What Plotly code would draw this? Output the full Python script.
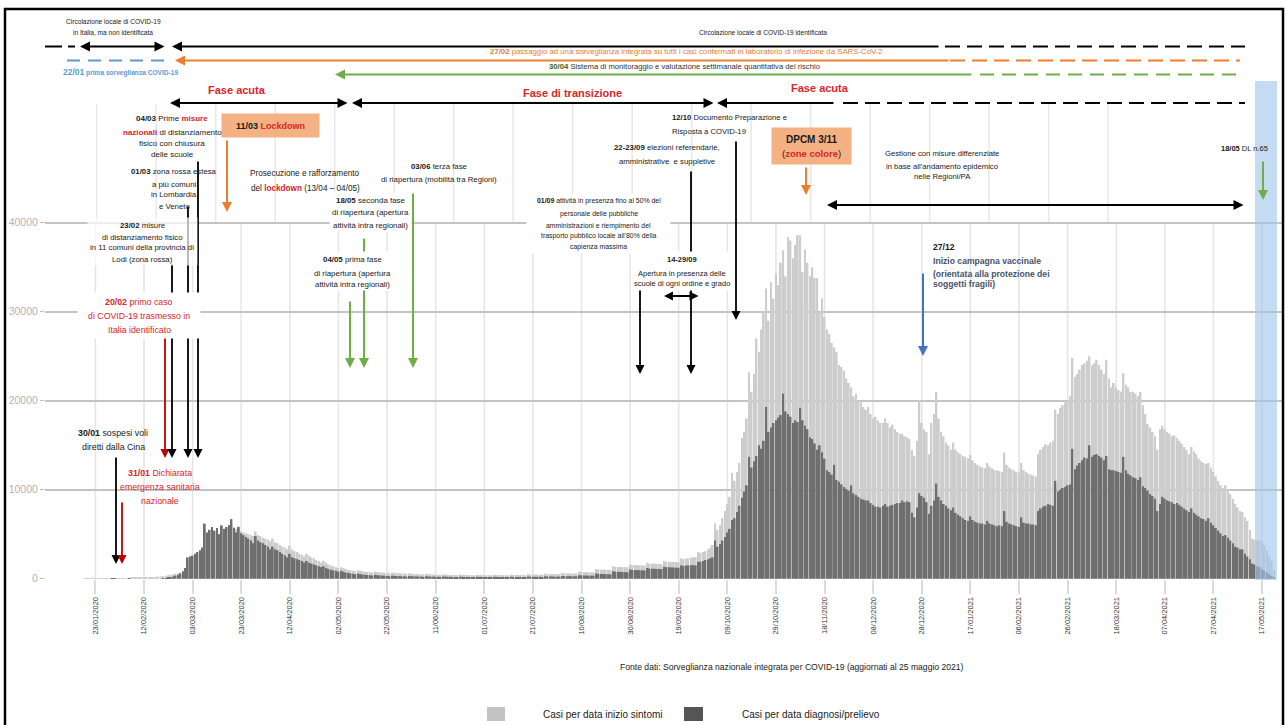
import plotly.graph_objects as go
import pandas as pd

# ---------------- DATA ----------------
START_DATE = "2020-01-19"   # first bar (Sunday); one row per week below

sintomi = [
    10, 10, 20, 20, 20, 30, 30,
    40, 40, 50, 50, 60, 60, 70,
    60, 70, 70, 80, 80, 90, 90,
    100, 100, 110, 120, 130, 140, 150,
    180, 200, 230, 260, 300, 340, 380,
    450, 500, 560, 620, 700, 780, 860,
    2000, 2200, 2400, 2600, 2800, 3000, 3200,
    5500, 5000, 5300, 5500, 5300, 5500, 5000,
    5800, 5600, 5800, 6000, 6200, 5800, 5600,
    5900, 5300, 5200, 5100, 5000, 4900, 4800,
    5300, 4900, 4800, 4600, 4500, 4400, 4200,
    4500, 4100, 4000, 3800, 3600, 3500, 3300,
    3700, 3300, 3100, 3000, 2800, 2700, 2500,
    2800, 2600, 2400, 2300, 2100, 2000, 1800,
    2000, 1800, 1600, 1500, 1400, 1300, 1200,
    1300, 1200, 1100, 1000, 950, 900, 850,
    950, 900, 850, 800, 760, 730, 700,
    800, 760, 730, 700, 680, 650, 620,
    700, 660, 640, 620, 600, 580, 560,
    620, 580, 560, 540, 520, 500, 480,
    560, 520, 500, 480, 460, 450, 440,
    500, 470, 450, 440, 430, 420, 410,
    470, 440, 420, 410, 400, 400, 390,
    450, 420, 410, 400, 390, 390, 380,
    450, 420, 410, 400, 400, 390, 390,
    470, 440, 430, 420, 420, 410, 410,
    520, 490, 480, 470, 460, 460, 450,
    580, 550, 540, 530, 520, 520, 510,
    650, 620, 610, 600, 590, 590, 580,
    800, 760, 750, 740, 730, 730, 720,
    1100, 1050, 1040, 1030, 1020, 1010, 1000,
    1400, 1350, 1330, 1320, 1310, 1300, 1290,
    1600, 1550, 1530, 1520, 1510, 1500, 1490,
    1800, 1720, 1700, 1690, 1680, 1670, 1660,
    2000, 1920, 1900, 1890, 1880, 1870, 1860,
    2300, 2200, 2250, 2300, 2350, 2400, 2450,
    3000, 2900, 3000, 3100, 3300, 3500, 3800,
    6200, 5500, 6000, 6800, 7600, 8400, 9200,
    11900, 11000, 12000, 13000, 15800, 16500, 18000,
    23200, 21000, 23000, 27000, 25500, 28000, 30000,
    32600, 29000, 33300, 31500, 34300, 33000, 35500,
    36900, 34000, 38400, 38000, 36000, 37500, 38600,
    38600, 34500, 37000, 35500, 34000, 35000, 33800,
    33800, 30000, 31500, 29400, 28000, 27500, 26500,
    26000, 25500, 24000, 23800, 23400, 22500, 22000,
    21500, 20500, 20800, 20000, 19800, 19300, 19000,
    19300, 18500, 18000, 18200, 17800, 17500, 17500,
    18000, 17500, 17000, 17300, 16800, 16500, 16300,
    16300, 16000, 15900, 15700, 14500, 13800, 15500,
    20100, 17500, 16800, 16500, 14000, 17500, 18500,
    21000, 18000, 16500, 16000, 15300, 15000, 14500,
    15300, 14500, 14200, 14000, 13800, 13700, 13500,
    13900, 13300, 13000, 12800, 12600, 12500, 12400,
    13000, 12600, 12400, 12200, 12200, 12100, 12000,
    14200, 12800, 12500, 12300, 12200, 12000, 11900,
    13000, 12200, 12000, 11800, 11700, 11600, 11500,
    14000, 14500, 14800, 15100, 15000, 15300, 15500,
    19000, 18500, 19200, 19500, 19800, 20000, 20500,
    24800, 22700, 23000, 23500, 24000, 24200, 24500,
    25000, 24000, 24200, 24600, 24000, 23500, 23000,
    24600, 22500, 21500, 22000, 21500, 21200, 21000,
    23100, 21800, 21500, 21000, 21000, 20800, 20500,
    21000, 19500, 18500, 17400, 17000, 16500, 16000,
    14500, 16800, 17200, 16800, 16500, 16300, 16000,
    16100, 15800, 15500, 15200, 14800, 14500, 14000,
    14800, 14300, 14000, 13500, 13200, 13000, 12900,
    13000, 12500, 12000, 11500, 11000, 10500, 10200,
    10500, 10000, 9500, 9000, 8400, 8000, 7600,
    7500, 6900, 6500, 5500, 4500, 4400, 4300,
    4300, 4200, 3800, 3200, 2500, 2000, 1000,
]

diagnosi = [
    0, 0, 0, 0, 0, 0, 0,
    0, 0, 0, 0, 3, 2, 0,
    0, 0, 0, 0, 1, 0, 0,
    0, 0, 0, 0, 0, 0, 0,
    0, 0, 0, 0, 20, 60, 90,
    150, 250, 350, 450, 600, 850, 1200,
    2400, 2500, 2600, 2800, 3000, 3200, 3500,
    6200, 5200, 5500, 5800, 5400, 5700, 5000,
    6000, 5600, 5800, 6000, 6700, 5700, 5200,
    5800, 5100, 4900, 4700, 4500, 4300, 4000,
    4800, 4300, 4100, 4000, 3800, 3600, 3300,
    3600, 3300, 3200, 3000, 2800, 2600, 2400,
    2800, 2400, 2300, 2200, 2100, 2000, 1800,
    2000, 1800, 1700, 1600, 1500, 1400, 1300,
    1400, 1200, 1100, 1000, 950, 900, 800,
    900, 800, 700, 650, 600, 560, 500,
    600, 520, 480, 450, 420, 400, 360,
    450, 400, 380, 360, 340, 320, 290,
    350, 320, 300, 290, 280, 270, 250,
    300, 280, 270, 260, 250, 240, 220,
    270, 250, 240, 230, 220, 210, 200,
    250, 230, 220, 210, 200, 200, 190,
    230, 210, 200, 200, 190, 190, 180,
    220, 200, 200, 190, 190, 180, 180,
    220, 200, 190, 190, 180, 180, 170,
    230, 210, 200, 200, 190, 190, 180,
    250, 230, 220, 220, 210, 210, 200,
    280, 260, 250, 250, 240, 240, 230,
    320, 300, 290, 290, 280, 280, 270,
    400, 380, 370, 360, 350, 350, 340,
    580, 550, 540, 530, 520, 510, 500,
    850, 800, 780, 770, 760, 750, 730,
    1050, 1000, 980, 970, 960, 950, 930,
    1200, 1150, 1130, 1120, 1110, 1100, 1080,
    1350, 1300, 1280, 1270, 1260, 1250, 1230,
    1500, 1450, 1480, 1500, 1520, 1530, 1500,
    1900, 1900, 2000, 2100, 2200, 2300, 2400,
    4300, 3600, 3900, 4300, 4700, 5200, 5600,
    6600, 6800, 7500, 8200, 9100, 9800, 10500,
    13700, 12500, 13200, 13800, 15000, 14600, 15500,
    19300, 16500, 17000, 17500, 17800, 18100, 18400,
    20800, 18800, 18500, 18200, 17500, 17800, 17600,
    19200, 17800, 17200, 16800, 15900, 15700, 15200,
    14500, 15000, 14200, 13500, 12200, 12000, 11700,
    12800, 11100, 10900, 10600, 10300, 10100, 9900,
    10500, 9600, 9400, 9200, 9000, 8900, 8800,
    8800, 8500, 8300, 8100, 8100, 8000, 8200,
    8400, 8100, 8200, 8300, 8400, 8500, 8500,
    8800, 8600, 8700, 8600, 7400, 6900, 8000,
    9600, 9300, 9100, 8600, 7300, 8200, 8800,
    10700, 9200, 8800, 8400, 8200, 7900, 7700,
    8000, 7400, 7200, 7000, 6800, 6600, 6500,
    7000, 6600, 6400, 6300, 6200, 6200, 6100,
    6500, 6200, 6100, 6000, 5900, 6000, 5900,
    7600, 6400, 6200, 6100, 6000, 5900, 5800,
    6900, 6300, 6200, 6200, 6100, 6100, 6000,
    7600, 7900, 8100, 8200, 8400, 8300, 8200,
    11000, 9800, 10000, 10200, 10300, 10500, 10600,
    14600, 12300, 12700, 13000, 13300, 13600, 13500,
    15000, 13700, 13900, 14000, 13800, 13600, 13300,
    13800, 12300, 12200, 12200, 12100, 12000, 11900,
    13700, 12200, 11800, 11600, 11400, 11300, 11100,
    11400, 10400, 10200, 9900, 9500, 9300, 9000,
    7600, 8400, 9200, 9000, 8800, 8700, 8600,
    8400, 8500, 8300, 8100, 7900, 7700, 7500,
    7900, 7400, 7200, 7000, 6800, 6700, 6500,
    6800, 6300, 6000, 5700, 5400, 5100, 4800,
    4900, 4600, 4300, 4000, 3600, 3500, 3300,
    3300, 2800, 2500, 2200, 1700, 1600, 1400,
    1300, 1100, 900, 700, 500, 300, 150,
]

dates = pd.date_range(START_DATE, periods=len(sintomi), freq="D")

series_names = ["Casi per data inizio sintomi", "Casi per data diagnosi/prelievo"]
y_tick_values = [0, 10000, 20000, 30000, 40000]
x_tick_start = "2020-01-23"
x_tick_end = "2021-05-17"
x_tick_step_days = 20

# ---------------- LAYOUT GEOMETRY ----------------
W, H = 1286, 725
L, R, T, B = 45, 1283, 81, 579
PX_REF, PX_PER_DAY = 95.4, 2.4305
PX_PER_UNIT = 356 / 40000.0

def xp(px):
    return (px - L) / (R - L)

def yp(py):
    return (B - py) / (B - T)

ref_day = pd.Timestamp(x_tick_start)
x_left = ref_day + pd.Timedelta(days=(L - PX_REF) / PX_PER_DAY)
x_right = ref_day + pd.Timedelta(days=(R - PX_REF) / PX_PER_DAY)
y_top = (B - T) / PX_PER_UNIT

RED = "#d9262b"
ORANGE = "#ed7d31"
GREEN = "#70ad47"
BLUE = "#5b9bd5"
FA = "Liberation Sans, Arial, sans-serif"
RS = "<span style='color:" + RED + "'>"

fig = go.Figure()
fig.add_trace(go.Bar(x=dates, y=sintomi, name=series_names[0],
                     marker=dict(color="#cdcdcd", line=dict(width=0)), showlegend=False))
fig.add_trace(go.Bar(x=dates, y=diagnosi, name=series_names[1],
                     marker=dict(color="#6f6f6f", line=dict(width=0)), showlegend=False))

shapes = []
arrows = []
boxes = []
texts = []

def hline(x0, x1, py, color, width=2, dash="solid"):
    shapes.append(dict(type="line", xref="paper", yref="paper", x0=xp(x0), x1=xp(x1),
                       y0=yp(py), y1=yp(py), line=dict(color=color, width=width, dash=dash)))

def text(t, px, py, size=8, color="#1a1a1a", xanchor="center", family=FA):
    texts.append(dict(text=t, x=xp(px), y=yp(py), xref="paper", yref="paper", showarrow=False,
                      xanchor=xanchor, yanchor="middle", align="center",
                      font=dict(size=size, color=color, family=family)))

def lines(rows, px, pys, size=8, color="#1a1a1a", xanchor="center"):
    for t, py in zip(rows, pys):
        text(t, px, py, size=size, color=color, xanchor=xanchor)

def box(x0, y0, x1, y1, color):
    boxes.append(dict(text=" ", x=xp((x0 + x1) / 2), y=yp((y0 + y1) / 2), xref="paper", yref="paper",
                      showarrow=False, xanchor="center", yanchor="middle", width=x1 - x0,
                      height=y1 - y0, bgcolor=color, borderpad=0, font=dict(size=6)))

def arrow(hx, hy, tx, ty, color="#000000", width=1.8, size=1.0, both=False, head=2):
    a = dict(x=xp(hx), y=yp(hy), xref="paper", yref="paper", ax=tx - hx, ay=ty - hy,
             text="", showarrow=True, arrowhead=head, arrowsize=size, arrowwidth=width,
             arrowcolor=color, standoff=0, startstandoff=0)
    if both:
        a.update(arrowside="end+start", startarrowhead=head, startarrowsize=size)
    arrows.append(a)

# vertical grid lines (lower set at the date ticks, upper set as in the original)
tick_dates = pd.date_range(x_tick_start, x_tick_end, freq=f"{x_tick_step_days}D")
for d in tick_dates:
    shapes.append(dict(type="line", xref="x", yref="paper", x0=d, x1=d, y0=0, y1=yp(223),
                       line=dict(color="#e6e6e6", width=1.6), layer="below"))
for k in range(18):
    px = 96.7 + 59.5 * k
    shapes.append(dict(type="line", xref="paper", yref="paper", x0=xp(px), x1=xp(px),
                       y0=yp(223), y1=yp(104), line=dict(color="#ebe9e5", width=1.6), layer="below"))

# frame
shapes.append(dict(type="rect", xref="paper", yref="paper", x0=xp(5), x1=xp(1283),
                   y0=yp(760), y1=yp(9), line=dict(color="#000000", width=2.5)))

# blue band (last days)
shapes.append(dict(type="rect", xref="paper", yref="paper", x0=xp(1255), x1=xp(1277),
                   y0=yp(580), y1=yp(81), line=dict(width=0),
                   fillcolor="rgba(160,198,232,0.62)", layer="above"))

# ---------- header rows ----------
lines(["Circolazione locale di COVID-19", "in Italia, ma non identificata"], 113, [21, 32], size=6.6)
text("Circolazione locale di COVID-19 identificata", 763, 32, size=6.6)

hline(45, 62, 46.5, "#000000")
hline(68, 75, 46.5, "#000000")
arrow(80, 46.5, 166, 46.5, both=True, width=2)
arrow(172, 46.5, 940, 46.5, width=2)
hline(945, 1245, 46.5, "#000000", dash="15px,7px")

hline(67, 168, 60.5, BLUE, dash="13px,8px")
arrow(175, 60.5, 950, 60.5, color=ORANGE, width=2)
hline(950, 1240, 60.5, ORANGE, dash="15px,7px")
text("<b>27/02</b> passaggio ad una sorveglianza integrata su tutti i casi confermati in laboratorio di infezione da SARS-CoV-2",
     885, 52, size=7.8, color=ORANGE, xanchor="right")
text("<b><span style='font-size:8.5px'>22/01</span> prima sorveglianza COVID-19</b>", 61, 72,
     size=6.6, color=BLUE, xanchor="left")

arrow(335, 74.5, 973, 74.5, color=GREEN, width=2)
hline(980, 1240, 74.5, GREEN, dash="14px,8px")
text("<b><span style='color:#3b5e2b'>30/04</span></b> Sistema di monitoraggio e valutazione settimanale quantitativa del rischio",
     684, 66.5, size=7.7, color="#333333")

text("<b>Fase acuta</b>", 237, 90, size=11, color=RED)
text("<b>Fase di transizione</b>", 572, 93, size=11, color=RED)
text("<b>Fase acuta</b>", 820, 88, size=11, color=RED)
arrow(170, 103, 349, 103, both=True, width=2)
arrow(352, 103, 715, 103, both=True, width=2)
arrow(717, 103, 835, 103, width=2)
hline(843, 1245, 103, "#000000", dash="15px,7px")

# ---------- left block ----------
arrow(116, 564, 116, 456)
arrow(122, 564, 122, 501, color="#c00000")
arrow(165, 458, 165, 300, color="#c00000")
arrow(172, 458, 172, 263)
arrow(188, 458, 188, 205)
arrow(198, 458, 198, 160)
arrow(227, 212, 227, 139, color=ORANGE, width=2)

lines(["<b>04/03</b> Prime <b>" + RS + "misure</span></b>",
       "<b>" + RS + "nazionali</span></b> di distanziamento",
       "fisico con chiusura", "delle scuole"], 172, [119, 132, 143, 154], size=8)
box(222, 114, 319, 137, "#f4b183")
text("<b>11/03 " + RS + "Lockdown</span></b>", 270.5, 125.5, size=9)
lines(["<b>01/03</b> zona rossa estesa", "a più comuni", "in Lombardia", "e Veneto"],
      174, [171, 184, 194.5, 206], size=7.8)
box(88, 218, 197, 265, "rgba(255,255,255,0.7)")
lines(["<b>23/02</b> misure", "di distanziamento fisico", "in 11 comuni della provincia di",
       "Lodi (zona rossa)"], 142, [225, 237, 248, 259], size=7.8)
box(78, 293, 200, 338, "#ffffff")
lines(["<b>20/02</b> primo caso", "di COVID-19 trasmesso in", "Italia identificato"],
      139, [302, 316, 330], size=8.8, color=RED)
lines(["<b>30/01</b> sospesi voli", "diretti dalla Cina"], 113, [433, 447], size=8.8)
lines(["<b>31/01</b> Dichiarata", "emergenza sanitaria", "nazionale"], 160, [473, 487, 501],
      size=8.8, color=RED)

# ---------- middle block ----------
lines(["Prosecuzione e rafforzamento", "del <b>" + RS + "lockdown</span></b> (13/04 – 04/05)"],
      305, [173, 188], size=8.2)
arrow(364, 368, 364, 237, color=GREEN, width=2)
arrow(350, 368, 350, 300, color=GREEN, width=2)
arrow(413, 368, 413, 192, color=GREEN, width=2)
box(312, 252, 393, 290, "#ffffff")
lines(["<b>04/05</b> prima fase", "di riapertura (apertura", "attività intra regionali)"],
      352, [259, 273, 284], size=7.9)
box(330, 193, 411, 231, "#ffffff")
lines(["<b>18/05</b> seconda fase", "di riapertura (apertura", "attività intra regionali)"],
      370.5, [200, 213, 225], size=7.9)
lines(["<b>03/06</b> terza fase", "di riapertura (mobilità tra Regioni)"], 439, [166, 179], size=7.8)

arrow(640, 374, 640, 247)
arrow(691, 374, 691, 170)
arrow(736, 320, 736, 140)
box(527, 194, 670, 253, "#ffffff")
lines(["<b>01/09</b> attività in presenza fino al 50% del", "personale delle pubbliche",
       "amministrazioni e riempimento del", "trasporto pubblico locale all’80% della",
       "capienza massima"], 598.5, [201, 214, 226, 236, 247], size=6.9)
box(634, 252, 729, 290, "#ffffff")
lines(["<b>14-29/09</b>", "Apertura in presenza delle", "scuole di ogni ordine e grado"],
      681.5, [259, 273, 283.5], size=7.5)
arrow(664, 296, 700, 296, both=True, width=1.8)
lines(["<b>22-23/09</b> elezioni referendarie,", "amministrative  e suppletive"], 667, [147, 161], size=7.8)
lines(["<b>12/10</b> Documento Preparazione e", "Risposta a COVID-19"], 670, [117, 131], size=7.7,
      xanchor="left")

# ---------- right block ----------
box(772, 128, 851, 164, "#f4b183")
text("<b>DPCM 3/11</b>", 811.5, 139, size=10)
text("(<b>" + RS + "zone colore</span></b>)", 811.5, 153, size=9.5)
arrow(806, 195, 806, 166, color=ORANGE, width=2)
arrow(827, 205, 1245, 205, both=True, width=2)
lines(["Gestione con misure differenziate", "in base all’andamento epidemico", "nelle Regioni/PA"],
      942, [153, 166, 177], size=7.7)
text("<b>18/05</b> DL n.65", 1270, 148, size=7.5, xanchor="right")
arrow(1263, 200, 1263, 160, color=GREEN, width=2)
arrow(923, 356, 923, 272, color="#4472c4", width=2)
lines(["<b>27/12</b>", "<b><span style='color:#44546a'>Inizio campagna vaccinale</span></b>",
       "<b><span style='color:#44546a'>(orientata alla protezione dei</span></b>",
       "<b><span style='color:#44546a'>soggetti fragili)</span></b>"],
      931, [247, 261, 274, 284], size=8.6, xanchor="left")

# ---------- footer ----------
text("Fonte dati: Sorveglianza nazionale integrata per COVID-19 (aggiornati al 25 maggio 2021)",
     792, 667, size=8.6, color="#222222")
shapes.append(dict(type="rect", xref="paper", yref="paper", x0=xp(487), x1=xp(505), y0=yp(721), y1=yp(707),
                   fillcolor="#c3c3c3", line=dict(width=0)))
shapes.append(dict(type="rect", xref="paper", yref="paper", x0=xp(684), x1=xp(703), y0=yp(721), y1=yp(707),
                   fillcolor="#555555", line=dict(width=0)))
text(series_names[0], 541, 714, size=10, xanchor="left", color="#222222")
text(series_names[1], 740, 714, size=10, xanchor="left", color="#222222")

fig.update_layout(
    width=W, height=H,
    margin=dict(l=L, r=W - R, t=T, b=H - B, pad=0),
    paper_bgcolor="white", plot_bgcolor="white",
    barmode="overlay", bargap=0.28,
    shapes=shapes, annotations=arrows + boxes + texts,
    xaxis=dict(type="date", range=[x_left, x_right], tickmode="array", tickvals=list(tick_dates),
               tickformat="%d/%m/%Y", tickangle=-90,
               ticks="outside", ticklen=14, tickcolor="#dcdcdc", tickwidth=1.5,
               showgrid=False, zeroline=False, showline=False, automargin=False,
               tickfont=dict(family=FA, size=7.5, color="#333333")),
    yaxis=dict(range=[-30, y_top - 30], tickmode="array", tickvals=y_tick_values, tickformat="d",
               showgrid=True, gridcolor="#c4c4c4", gridwidth=1.5, zeroline=False, showline=False,
               ticks="outside", ticklen=4, tickcolor="#bdbdbd", automargin=False,
               tickfont=dict(family=FA, size=10.5, color="#b3b3b3")),
)

fig.write_html("out.html", config={"displayModeBar": False},
               post_script="document.body.style.margin='0px';")
